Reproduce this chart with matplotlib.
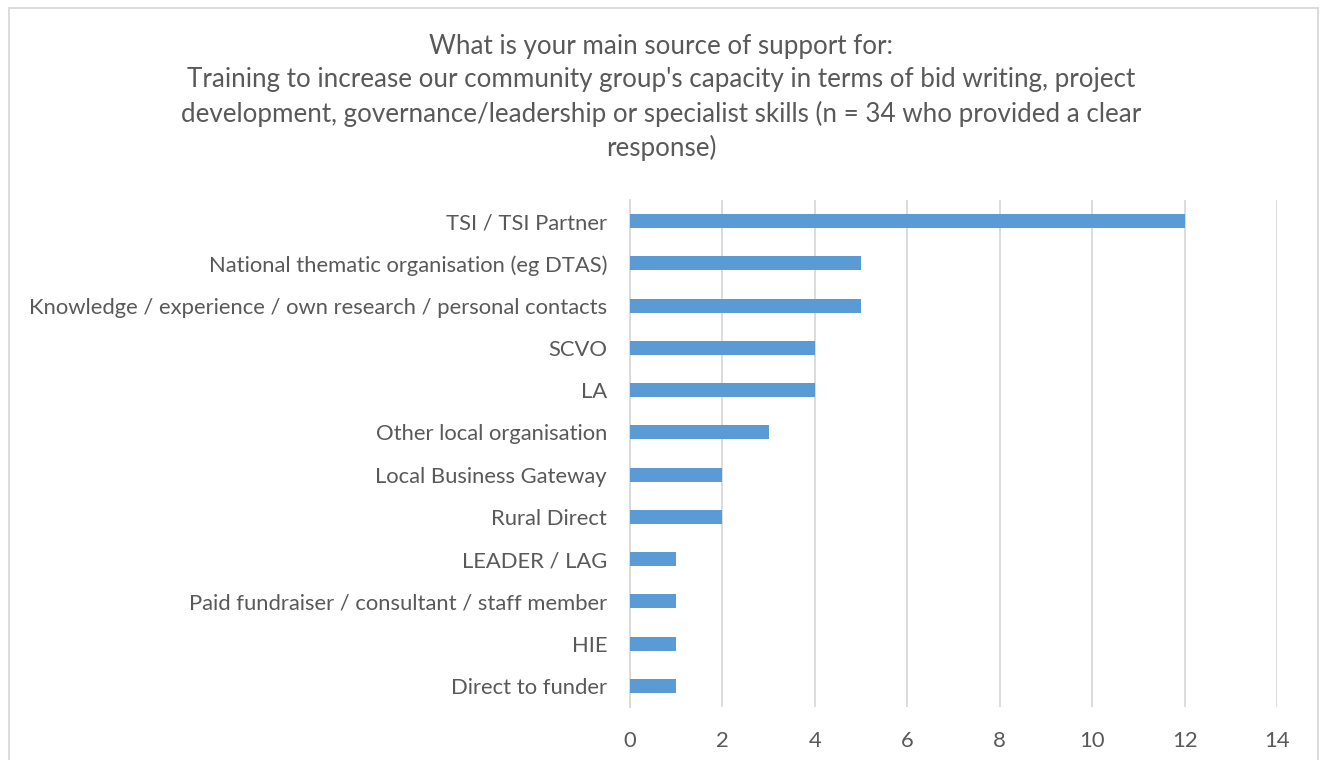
import matplotlib.pyplot as plt
from matplotlib.patches import Rectangle

categories = [
    "TSI / TSI Partner",
    "National thematic organisation (eg DTAS)",
    "Knowledge / experience / own research / personal contacts",
    "SCVO",
    "LA",
    "Other local organisation",
    "Local Business Gateway",
    "Rural Direct",
    "LEADER / LAG",
    "Paid fundraiser / consultant / staff member",
    "HIE",
    "Direct to funder",
]
counts = [12, 5, 5, 4, 4, 3, 2, 2, 1, 1, 1, 1]
x_ticks = [0, 2, 4, 6, 8, 10, 12, 14]

title = (
    "What is your main source of support for:\n"
    "Training to increase our community group's capacity in terms of bid writing, project\n"
    "development, governance/leadership or specialist skills (n = 34 who provided a clear\n"
    "response)"
)

text_col = "#595959"
grid_col = "#D9D9D9"
bar_col = "#5B9BD5"

plt.rcParams["font.family"] = ["Lato", "DejaVu Sans"]

fig = plt.figure(figsize=(13.22, 7.6), dpi=100)
ax = fig.add_axes([630 / 1322, 1 - 707 / 760, 647 / 1322, 507 / 760])

# first category at the top
ypos = list(range(len(categories)))[::-1]
ax.barh(ypos, counts, height=0.33, color=bar_col, zorder=3)

ax.set_xlim(0, 14)
ax.set_ylim(-0.5, len(categories) - 0.5)
ax.set_xticks(x_ticks)
ax.set_yticks(ypos)
ax.set_yticklabels(categories)
ax.tick_params(length=0, colors=text_col, labelsize=15.8)
ax.tick_params(axis="x", pad=17)
ax.tick_params(axis="y", pad=16.5)
ax.grid(axis="x", color=grid_col, linewidth=1.3, zorder=0)
for side in ["top", "right", "bottom"]:
    ax.spines[side].set_visible(False)
ax.spines["left"].set_color(grid_col)
ax.spines["left"].set_linewidth(1.3)

fig.text(0.5, 1 - 34 / 760, title, ha="center", va="top", fontsize=18.7,
         color=text_col, linespacing=1.4)

# chart frame
fig.patches.append(Rectangle((9 / 1322, -0.05), 1309 / 1322, 1.05 - 8 / 760,
                             transform=fig.transFigure, fill=False,
                             edgecolor=grid_col, linewidth=1.3))

fig.savefig("out.png", dpi=100)
